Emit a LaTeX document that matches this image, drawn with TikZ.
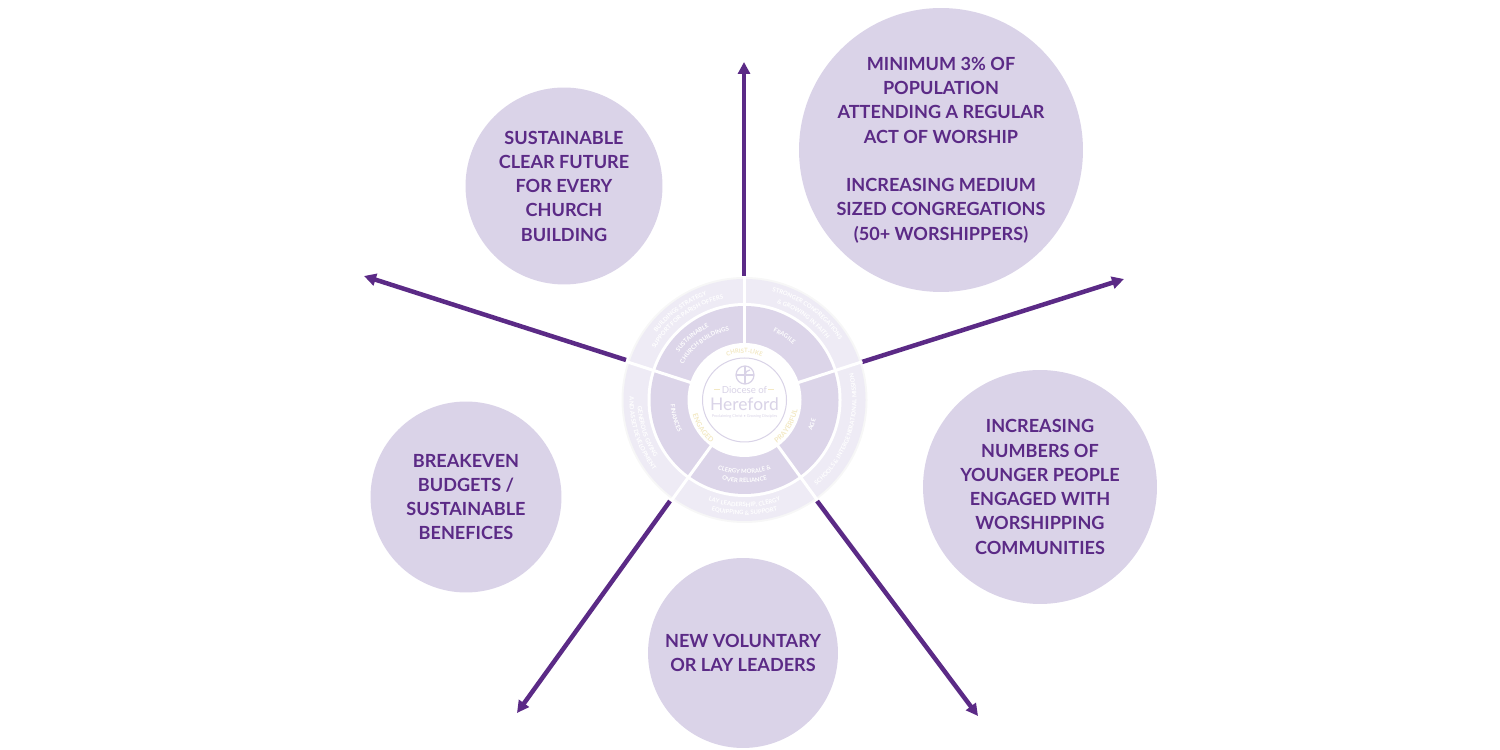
\documentclass[tikz,border=0pt]{standalone}
\usepackage{fontspec}
\setmainfont{Lato}
\usetikzlibrary{arrows.meta,decorations.text}

\definecolor{deep_purple}{HTML}{5B2A86}
\definecolor{bubble_fill}{HTML}{DAD3E8}
\definecolor{outer_fill}{HTML}{EEEBF5}
\definecolor{middle_fill}{HTML}{DCD5E9}
\definecolor{word_yellow}{HTML}{F3E9C4}
\definecolor{logo_line}{HTML}{D9D3E7}

% size, radius, start angle, end angle, colour, text
\newcommand{\wheeltext}[6][3.4pt]{
	\path[decorate, decoration={text along path, text align=center,
		text={|\fontsize{#1}{#1}\selectfont\bfseries\color{#5}|#6}}]
		(wheel) ++(#3:#2) arc (#3:#4:#2);
}

\begin{document}
\begin{tikzpicture}[
			x=0.02cm, y=0.02cm,
			bubble/.style={draw=none, circle, fill=bubble_fill, text=deep_purple, align=center, inner sep=0pt, font=\fontsize{10.3pt}{13.8pt}\selectfont\bfseries, execute at begin node={\rule{0pt}{10pt}}},
			flow_arrow/.style={draw=deep_purple, line width=0.09cm, -{Triangle[length=0.24cm, width=0.24cm]}},
			wheel_gap/.style={draw=white, line width=0.06cm}
			]
			\useasboundingbox (0,0) rectangle (1500,750);
			
			% Outcome bubbles
			\node[bubble, minimum size=3.94cm] (buildings) at (564,564) {SUSTAINABLE\\CLEAR FUTURE\\FOR EVERY\\CHURCH\\BUILDING};
			\node[bubble, minimum size=5.68cm] (attendance) at (941,600) {MINIMUM 3\% OF\\POPULATION\\ATTENDING A REGULAR\\ACT OF WORSHIP\\[13.8pt]INCREASING MEDIUM\\SIZED CONGREGATIONS\\(50+ WORSHIPPERS)};
			\node[bubble, minimum size=4.68cm] (younger) at (1040,263) {INCREASING\\NUMBERS OF\\YOUNGER PEOPLE\\ENGAGED WITH\\WORSHIPPING\\COMMUNITIES};
			\node[bubble, minimum size=3.8cm] (leaders) at (743,97) {NEW VOLUNTARY\\OR LAY LEADERS};
			\node[bubble, minimum size=3.82cm] (budgets) at (466,253) {BREAKEVEN\\BUDGETS /\\SUSTAINABLE\\BENEFICES};
			
			% Arrow ends
			\coordinate (up_start) at (744,474);
			\coordinate (up_tip) at (744,688);
			\coordinate (left_start) at (626,390);
			\coordinate (left_tip) at (364,474);
			\coordinate (right_start) at (862,388);
			\coordinate (right_tip) at (1124,471);
			\coordinate (low_right_start) at (817,249);
			\coordinate (low_right_tip) at (978,34);
			\coordinate (low_left_start) at (670,249);
			\coordinate (low_left_tip) at (517,37);
			
			\draw[flow_arrow] (up_start) -- (up_tip);
			\draw[flow_arrow] (left_start) -- (left_tip);
			\draw[flow_arrow] (right_start) -- (right_tip);
			\draw[flow_arrow] (low_right_start) -- (low_right_tip);
			\draw[flow_arrow] (low_left_start) -- (low_left_tip);
			
			% Wheel rings
			\coordinate (wheel) at (744.5,350);
			\fill[black!3] (wheel) circle (123);
			\fill[outer_fill] (wheel) circle (121);
			\fill[white] (wheel) circle (97);
			\fill[middle_fill] (wheel) circle (94);
			\foreach \a in {18,90,162,234,306}
				\draw[wheel_gap] (wheel) -- ++(\a:124);
			\fill[white] (wheel) circle (57);
			\draw[logo_line, line width=0.02cm] (wheel) circle (42);
			
			% Outer ring words
			\wheeltext{111}{166}{86}{white}{BUILDINGS STRATEGY}
			\wheeltext{103}{166}{86}{white}{SUPPORT FOR PARISH OFFERS}
			\wheeltext{112}{94}{14}{white}{STRONGER CONGREGATIONS}
			\wheeltext{102}{94}{14}{white}{{\&} GROWING IN FAITH}
			\wheeltext{112}{-70}{34}{white}{SCHOOLS {\&} INTERGENERATIONAL MISSION}
			\wheeltext{107}{-130}{-50}{white}{LAY LEADERSHIP, CLERGY}
			\wheeltext{115}{-130}{-50}{white}{EQUIPPING {\&} SUPPORT}
			\wheeltext{107}{158}{238}{white}{GENEROUS GIVING}
			\wheeltext{115}{158}{238}{white}{AND ASSET DEVELOPMENT}
			
			% Middle ring words
			\wheeltext{81}{170}{90}{white}{SUSTAINABLE}
			\wheeltext{71}{166}{86}{white}{CHURCH BUILDINGS}
			\wheeltext{74}{98}{18}{white}{FRAGILE}
			\wheeltext{74}{-60}{20}{white}{AGE}
			\wheeltext{74}{-130}{-50}{white}{CLERGY MORALE {\&}}
			\wheeltext{83}{-130}{-50}{white}{OVER RELIANCE}
			\wheeltext{74}{155}{235}{white}{FINANCES}
			
			% Words round the logo
			\wheeltext[3.4pt]{47}{130}{50}{word_yellow}{CHRIST-LIKE}
			\wheeltext[4pt]{54}{-72}{8}{word_yellow}{PRAYERFUL}
			\wheeltext[4pt]{54}{174}{254}{word_yellow}{ENGAGED}
			
			% Logo
			\coordinate (logo) at (745,375);
			\draw[logo_line, line width=0.025cm] (logo) circle (9);
			\draw[logo_line, line width=0.025cm] (745,384) -- (745,366) (736,375) -- (754,375);
			\draw[logo_line, line width=0.025cm] (745,375) arc (180:90:5);
			\node[text=logo_line, font=\fontsize{5.5pt}{5.5pt}\selectfont, inner sep=0pt] (diocese) at (744.5,360) {Diocese of};
			\node[text=logo_line, font=\fontsize{9.9pt}{9.9pt}\selectfont, inner sep=0pt] (hereford) at (744.5,346) {Hereford};
			\node[text=logo_line, font=\fontsize{2.2pt}{2.2pt}\selectfont, inner sep=0pt] (tagline) at (744.5,334) {Proclaiming Christ • Growing Disciples};
			\draw[word_yellow, line width=0.02cm] (714,360) -- (720,360) (768,360) -- (774,360);
			
		\end{tikzpicture}
\end{document}
